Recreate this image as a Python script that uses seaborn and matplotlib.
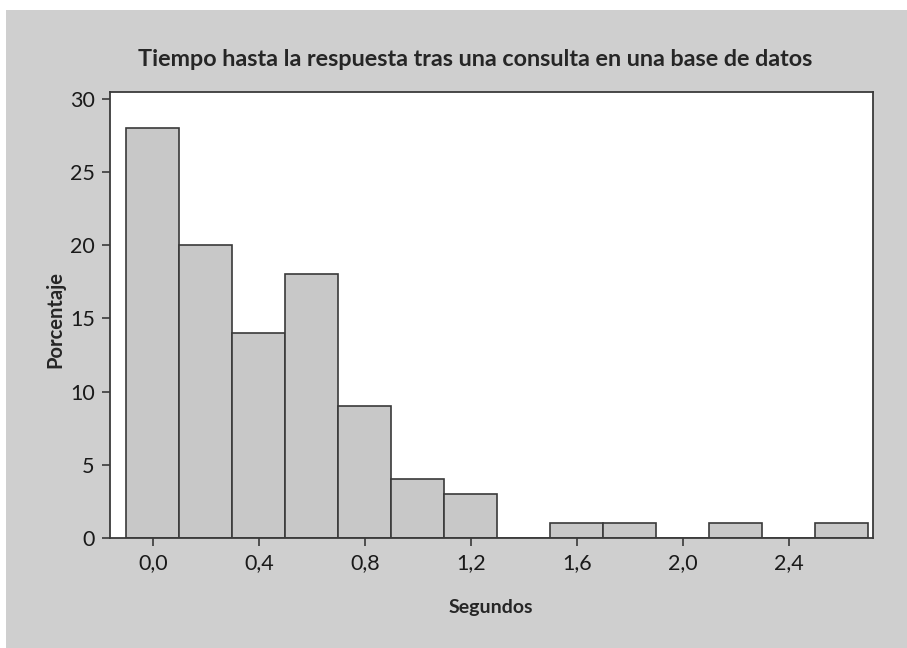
import numpy as np
import pandas as pd
import matplotlib.pyplot as plt
import seaborn as sns
from matplotlib.patches import Rectangle

# bin centers (seconds) and percentage per bin
centros = [0.0, 0.2, 0.4, 0.6, 0.8, 1.0, 1.2, 1.4, 1.6, 1.8, 2.0, 2.2, 2.4, 2.6]
porcentaje = [28, 20, 14, 18, 9, 4, 3, 0, 1, 1, 0, 1, 0, 1]
ancho = 0.2

xticks = [0.0, 0.4, 0.8, 1.2, 1.6, 2.0, 2.4]
xtick_labels = ["0,0", "0,4", "0,8", "1,2", "1,6", "2,0", "2,4"]
yticks = [0, 5, 10, 15, 20, 25, 30]

df = pd.DataFrame({"segundos": centros, "porcentaje": porcentaje})

sns.set_style("ticks")
plt.rcParams['font.family'] = ['Lato', 'DejaVu Sans']

fig = plt.figure(figsize=(9.07, 6.48), dpi=100)
fig.patch.set_facecolor("white")
fig.patches.append(Rectangle((6 / 907, 0), 1, 1 - 10 / 648, transform=fig.transFigure,
                             facecolor="#cfcfcf", edgecolor="none", zorder=-10))

ax = fig.add_axes([110 / 907, 1 - 538 / 648, 763 / 907, 446 / 648])
ax.set_facecolor("white")

bordes = [c - ancho / 2 for c in centros] + [centros[-1] + ancho / 2]
sns.histplot(data=df, x="segundos", weights="porcentaje", bins=bordes, ax=ax,
             color="#c8c8c8", alpha=1, edgecolor="#3a3a3a", linewidth=1.2)

ax.set_xlim(-0.162, 2.717)
ax.set_ylim(0, 30.45)
ax.set_xticks(xticks)
ax.set_xticklabels(xtick_labels)
ax.set_yticks(yticks)
ax.tick_params(axis="both", direction="out", length=6, width=1.2, color="#3a3a3a",
               labelsize=15.5, pad=5, labelcolor="#1a1a1a")
for s in ax.spines.values():
    s.set_color("#3a3a3a")
    s.set_linewidth(1.3)

ax.set_ylabel("")
ax.set_xlabel("")
fig.text(475 / 907, 1 - 60 / 648, "Tiempo hasta la respuesta tras una consulta en una base de datos",
         ha="center", va="center", fontsize=16.8, fontweight="bold")
fig.text(491 / 907, 1 - 607 / 648, "Segundos", ha="center", va="center",
         fontsize=14, fontweight="bold")
fig.text(55 / 907, 1 - 320 / 648, "Porcentaje", ha="center", va="center",
         rotation=90, fontsize=14.5, fontweight="bold")

fig.savefig("out.png", dpi=100)
